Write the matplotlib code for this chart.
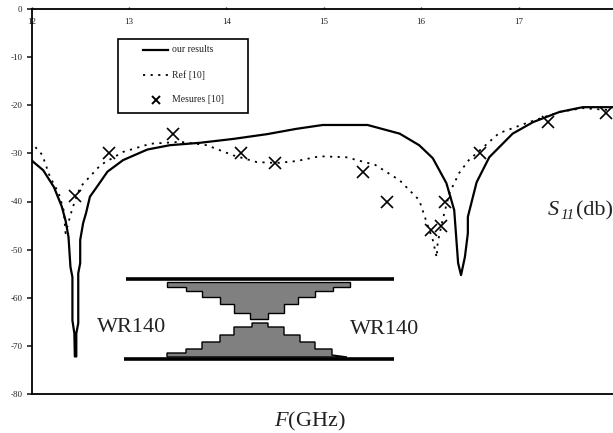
#!/usr/bin/python3

import matplotlib
matplotlib.use('Agg')
import matplotlib.pyplot as plt
from matplotlib.patches import Polygon, Rectangle
from matplotlib.transforms import Affine2D

# Curves
ours_f = [12.00, 12.02, 12.12, 12.23, 12.31, 12.35, 12.38, 12.40, 12.42, 12.42, 12.44, 12.445,
          12.46, 12.46, 12.48, 12.48, 12.50, 12.50, 12.53, 12.56, 12.60, 12.67, 12.78, 12.94,
          13.19, 13.42, 13.73, 14.07, 14.42, 14.72, 14.99, 15.45, 15.78, 15.98, 16.12, 16.26,
          16.34, 16.36, 16.38, 16.41, 16.45, 16.48, 16.48, 16.57, 16.70, 16.94, 17.15, 17.42,
          17.66, 17.97]
ours_s11 = [-31.4, -31.8, -33.5, -37.0, -41.0, -44.0, -47.4, -53.6, -55.7, -64.7, -67.4, -72.2,
            -72.2, -67.4, -65.3, -54.9, -52.8, -48.0, -44.5, -42.4, -39.0, -37.0, -33.8, -31.4,
            -29.2, -28.3, -27.8, -27.0, -26.0, -24.9, -24.1, -24.1, -25.9, -28.3, -31.0, -36.2,
            -41.8, -47.3, -52.8, -55.3, -51.5, -46.6, -43.2, -36.0, -30.8, -25.9, -23.5, -21.4,
            -20.4, -20.4]

ref_f = [12.04, 12.11, 12.19, 12.28, 12.33, 12.35, 12.38, 12.42, 12.50, 12.71, 12.94, 13.22,
         13.53, 13.80, 14.07, 14.31, 14.52, 14.72, 14.96, 15.23, 15.53, 15.78, 15.98, 16.05,
         16.12, 16.16, 16.17, 16.22, 16.29, 16.39, 16.49, 16.80, 17.11, 17.42, 17.66, 17.93]
ref_s11 = [-28.7, -30.3, -34.9, -38.3, -41.8, -46.6, -44.3, -41.4, -37.0, -32.4, -29.7, -28.0,
           -27.6, -28.3, -30.4, -31.8, -32.0, -31.6, -30.6, -30.8, -32.4, -35.6, -39.7, -43.9,
           -48.0, -51.6, -48.6, -43.9, -38.3, -34.1, -31.4, -25.8, -23.5, -21.4, -20.6, -21.0]

meas_f = [12.45, 12.80, 13.45, 14.15, 14.50, 15.40, 15.65, 16.10, 16.20, 16.25, 16.60, 17.30, 17.90]
meas_s11 = [-38.8, -30.0, -26.0, -30.0, -32.0, -33.8, -40.0, -46.0, -45.0, -40.0, -30.0, -23.5, -21.7]

x_ticks = [12, 13, 14, 15, 16, 17]
y_ticks = [0, -10, -20, -30, -40, -50, -60, -70, -80]

# Waveguide sketch outline, in picture pixels
upper_x = [167, 167, 186, 186, 202, 202, 220, 220, 234, 234, 250, 250, 268, 268, 284, 284, 298,
           298, 315, 315, 333, 333, 350, 350]
upper_y = [282, 287, 287, 291, 291, 297, 297, 304, 304, 313, 313, 319, 319, 313, 313, 304, 304,
           297, 297, 291, 291, 287, 287, 282]
lower_x = [167, 167, 186, 186, 202, 202, 220, 220, 234, 234, 252, 252, 268, 268, 284, 284, 300,
           300, 315, 315, 332, 332, 347]
lower_y = [357, 353, 353, 349, 349, 342, 342, 335, 335, 327, 327, 323, 323, 327, 327, 335, 335,
           342, 342, 349, 349, 355, 357]

plt.rcParams['font.family'] = ['Liberation Serif', 'DejaVu Serif']
plt.rcParams['axes.unicode_minus'] = False
plt.rcParams['mathtext.fontset'] = 'custom'
plt.rcParams['mathtext.rm'] = 'Liberation Serif'
plt.rcParams['mathtext.it'] = 'Liberation Serif:italic'

W, H = 613, 433
f = plt.figure(figsize=(W/100, H/100), dpi=100)
ax = f.add_axes([31.5/W, 1 - 394/H, (W - 31.5)/W, 385/H])

ax.plot(ours_f, ours_s11, color='k', lw=1.6, zorder=3)
ax.plot(ref_f, ref_s11, color='k', lw=1.3, ls=(0, (1.2, 3)), zorder=3)
ax.plot(meas_f, meas_s11, ls='none', marker='x', color='k', ms=8.5, mew=1.2, zorder=4)

ax.set_xlim(12, 12 + (W - 31.5)/97.4)
ax.set_ylim(-80, 0)
ax.set_xticks(x_ticks)
ax.set_yticks(y_ticks)
ax.xaxis.tick_top()
ax.tick_params(axis='x', length=1.5, width=1, labelsize=6.5, pad=-13.5, colors='#222222')
ax.tick_params(axis='y', length=3.5, width=1.2, labelsize=6.5, pad=3, colors='#222222')
for side in ['top', 'left', 'bottom']:
    ax.spines[side].set_linewidth(1.3)
ax.spines['right'].set_visible(False)

# Everything below is placed in picture pixels, y going down
px = Affine2D().scale(1/W, -1/H).translate(0, 1) + f.transFigure

f.add_artist(Rectangle((117.5, 39), 130.5, 74, fc='white', ec='k', lw=1.2, transform=px, zorder=5))
f.add_artist(plt.Line2D([143, 168], [50, 50], color='k', lw=1.6, transform=px, zorder=6))
f.add_artist(plt.Line2D([143, 168], [75, 75], color='k', lw=1.3, ls=(0, (1.2, 3)), transform=px, zorder=6))
f.add_artist(plt.Line2D([156], [100], ls='none', marker='x', color='k', ms=5.5, mew=1.4, transform=px, zorder=6))
for y, label in zip([50, 75, 100], ['our results', 'Ref [10]', 'Mesures [10]']):
    f.text(172, y, label, fontsize=7, color='#222222', va='center', ha='left', transform=px, zorder=6)

f.add_artist(Polygon(list(zip(upper_x, upper_y)), closed=True, fc='#808080', ec='k', lw=1.0, transform=px))
f.add_artist(Polygon(list(zip(lower_x, lower_y)), closed=True, fc='#808080', ec='k', lw=1.0, transform=px))
f.add_artist(plt.Line2D([126, 394], [279, 279], color='k', lw=2.6, solid_capstyle='butt', transform=px))
f.add_artist(plt.Line2D([124, 394], [359, 359], color='k', lw=2.6, solid_capstyle='butt', transform=px))

f.text(97, 327, 'WR140', fontsize=16, color='#222222', va='center', ha='left', transform=px)
f.text(350, 329, 'WR140', fontsize=16, color='#222222', va='center', ha='left', transform=px)
f.text(310, 421, r'$\mathit{F}\mathrm{(GHz)}$', fontsize=16, color='#222222', va='center', ha='center', transform=px)

# S11 label: three pieces because mathtext keeps digits upright
f.text(548, 215, 'S', fontsize=16, style='italic', color='#222222', va='baseline', ha='left', transform=px)
f.text(560, 219, '11', fontsize=11, style='italic', color='#222222', va='baseline', ha='left', transform=px)
f.text(576, 215, '(db)', fontsize=16, color='#222222', va='baseline', ha='left', transform=px)

f.savefig('out.png', dpi=100)
